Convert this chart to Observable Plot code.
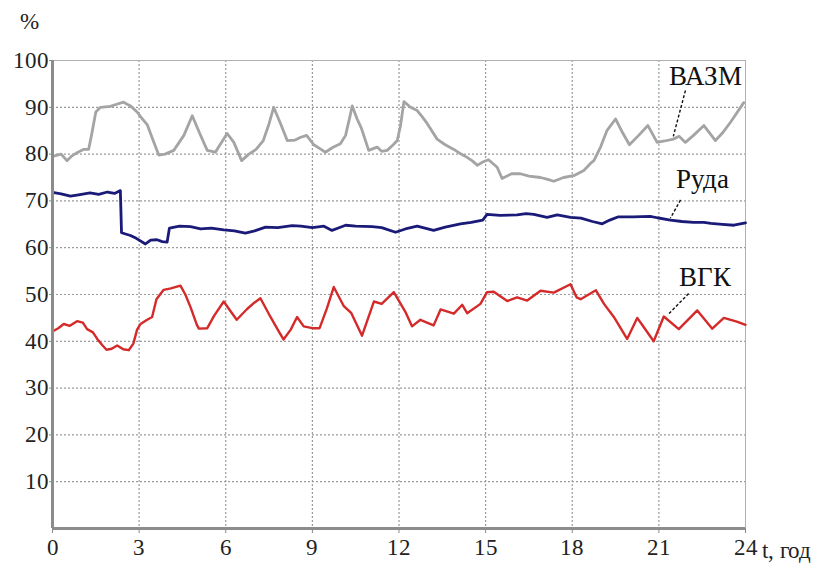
<!DOCTYPE html>
<html>
<head>
<meta charset="utf-8">
<script src="https://cdn.jsdelivr.net/npm/d3@7"></script>
<script src="https://cdn.jsdelivr.net/npm/@observablehq/plot@0.6"></script>
<style>
  @font-face { font-family: "ChartSerif"; src: local("Liberation Serif"), local("LiberationSerif"), local("LiberationSerif-Regular"); }
  html, body { margin: 0; padding: 0; background: #fff; font-family: "ChartSerif", "Liberation Serif", "Tinos", "Times New Roman", serif; }
  #head { position: relative; width: 831px; height: 40px; }
  #unit { position: absolute; left: 20px; top: 10px; font-size: 23px; line-height: 1; color: #222; }
  #chart svg { display: block; }
  #chart svg text, #chart svg tspan { font-family: "ChartSerif", "Liberation Serif", "Tinos", "Times New Roman", serif !important; }
</style>
</head>
<body>
<div id="head"><span id="unit"></span></div>
<div id="chart"></div>
<script>
// ---- data ----
const vazmT = [0.0,0.3,0.5,0.65,0.85,1.07,1.25,1.35,1.5,1.66,2.0,2.2,2.46,2.7,2.93,3.1,3.28,3.45,3.68,3.9,4.2,4.55,4.84,5.1,5.36,5.64,5.85,6.05,6.28,6.55,6.8,7.05,7.3,7.5,7.66,7.9,8.13,8.4,8.6,8.8,9.05,9.3,9.45,9.7,9.97,10.15,10.3,10.38,10.55,10.7,10.95,11.24,11.4,11.59,11.8,11.94,12.05,12.17,12.4,12.63,12.8,12.98,13.32,13.6,13.9,14.15,14.36,14.55,14.71,14.9,15.1,15.25,15.4,15.57,15.9,16.2,16.5,16.9,17.15,17.36,17.7,18.05,18.4,18.63,18.75,18.98,19.2,19.5,19.75,19.98,20.3,20.62,20.94,21.2,21.5,21.7,21.92,22.2,22.56,22.96,23.2,23.48,23.94];
const vazmV = [79.5,80.0,78.6,79.5,80.3,81.0,81.0,84.0,89.0,90.0,90.2,90.6,91.1,90.3,89.0,87.6,86.3,83.5,79.8,80.0,80.8,84.0,88.2,84.4,80.8,80.4,82.5,84.4,82.5,78.6,80.0,81.0,82.9,86.5,90.0,86.5,82.9,83.0,83.6,84.0,82.0,81.0,80.4,81.4,82.2,84.0,88.0,90.3,87.5,85.5,80.8,81.5,80.6,80.8,82.0,82.9,86.0,91.2,90.0,89.3,88.0,86.5,83.2,82.0,81.0,80.0,79.3,78.5,77.6,78.3,78.8,78.0,77.2,74.8,75.8,75.8,75.3,75.0,74.6,74.2,75.0,75.4,76.5,78.0,78.6,81.5,85.0,87.5,84.5,82.0,84.0,86.1,82.5,82.8,83.2,83.8,82.5,84.0,86.1,82.9,84.5,86.8,91.0];

const rudaT = [0.0,0.3,0.62,0.9,1.3,1.6,1.9,2.15,2.35,2.39,2.7,2.9,3.22,3.4,3.62,3.8,3.97,4.05,4.4,4.78,5.13,5.5,5.93,6.3,6.68,7.0,7.38,7.8,8.3,8.6,9.0,9.4,9.68,9.9,10.15,10.5,11.07,11.4,11.88,12.22,12.63,13.2,13.6,14.13,14.5,14.9,15.05,15.5,16.09,16.4,16.67,17.13,17.48,17.94,18.3,18.7,19.04,19.3,19.6,20.1,20.7,20.94,21.4,21.8,22.2,22.56,22.8,23.2,23.6,24.0];
const rudaV = [71.8,71.5,71.0,71.3,71.7,71.4,71.9,71.6,72.2,63.2,62.6,62.0,60.8,61.6,61.7,61.3,61.2,64.2,64.6,64.5,64.0,64.2,63.8,63.6,63.1,63.6,64.4,64.3,64.7,64.6,64.3,64.6,63.7,64.2,64.8,64.6,64.5,64.3,63.3,64.0,64.6,63.7,64.4,65.1,65.4,65.9,67.1,66.9,67.0,67.3,67.1,66.5,67.0,66.5,66.3,65.6,65.1,65.9,66.6,66.6,66.7,66.4,65.9,65.6,65.4,65.4,65.2,65.0,64.8,65.3];

const vgkT = [0.0,0.2,0.39,0.6,0.85,1.05,1.2,1.4,1.55,1.72,1.87,2.05,2.24,2.45,2.64,2.8,2.93,3.05,3.25,3.45,3.6,3.85,4.1,4.43,4.6,4.78,5.0,5.07,5.36,5.6,5.93,6.1,6.38,6.74,7.0,7.2,7.55,7.8,8.0,8.25,8.47,8.7,9.0,9.25,9.5,9.74,10.09,10.35,10.72,11.13,11.4,11.82,12.22,12.45,12.74,13.2,13.44,13.9,14.19,14.36,14.82,15.05,15.28,15.75,16.09,16.44,16.9,17.36,17.94,18.15,18.29,18.82,19.1,19.44,19.9,20.25,20.48,20.82,21.17,21.69,22.33,22.85,23.25,23.7,24.0];
const vgkV = [42.1,42.8,43.7,43.3,44.3,44.0,42.6,41.9,40.5,39.2,38.2,38.4,39.1,38.3,38.1,39.5,42.5,43.7,44.5,45.2,49.0,51.0,51.3,51.9,50.0,47.3,43.5,42.7,42.8,45.5,48.5,47.0,44.6,46.9,48.3,49.2,45.2,42.5,40.4,42.5,45.2,43.2,42.8,42.8,47.0,51.6,47.5,46.0,41.2,48.5,48.0,50.5,46.3,43.2,44.6,43.4,46.8,45.9,47.8,46.0,48.0,50.5,50.6,48.6,49.4,48.7,50.8,50.4,52.2,49.4,49.0,50.9,48.0,45.2,40.5,45.0,43.0,40.0,45.3,42.6,46.6,42.7,45.0,44.2,43.5];

const xTicks = [0, 3, 6, 9, 12, 15, 18, 21, 24];
const yTicks = [10, 20, 30, 40, 50, 60, 70, 80, 90, 100];
const xGrid = [3, 6, 9, 12, 15, 18, 21];
const yGrid = [10, 20, 30, 40, 50, 60, 70, 80, 90];

const seriesNames = ["ВАЗМ", "Руда", "ВГК"];
const xAxisUnit = "t, год";
const yAxisUnit = "%";

// annotation labels (data coordinates) and their leader lines
const labels = [
  {name: "ВАЗМ", x: 22.6,  y: 96.6, x1: 21.92, y1: 93.6, x2: 21.5, y2: 83.8},
  {name: "Руда", x: 22.5,  y: 74.6, x1: 21.75, y1: 70.2, x2: 21.4, y2: 66.3},
  {name: "ВГК",  x: 22.6,  y: 53.6, x1: 22.03, y1: 50.2, x2: 21.3, y2: 45.6}
];

const toRows = (t, v) => t.map((h, i) => ({t: h, v: v[i]}));
const vazm = toRows(vazmT, vazmV);
const ruda = toRows(rudaT, rudaV);
const vgk = toRows(vgkT, vgkV);

const font = "ChartSerif, Liberation Serif, Tinos, Times New Roman, serif";

document.getElementById("unit").textContent = yAxisUnit;

const chart = Plot.plot({
  width: 831,
  height: 524,
  marginLeft: 52,
  marginRight: 86,
  marginTop: 20,
  marginBottom: 36,
  style: {fontFamily: font, fontSize: "23px", background: "#fff", color: "#222"},
  x: {domain: [0, 24]},
  y: {domain: [0, 100]},
  marks: [
    // dotted grid
    Plot.ruleY(yGrid, {stroke: "#9a9a9a", strokeWidth: 1.2, strokeDasharray: "2,2"}),
    Plot.ruleX(xGrid, {stroke: "#9a9a9a", strokeWidth: 1.2, strokeDasharray: "2,2"}),
    // frame
    Plot.ruleY([100], {stroke: "#b0b0b0", strokeWidth: 1}),
    Plot.ruleX([24], {stroke: "#b0b0b0", strokeWidth: 1}),
    Plot.axisX({ticks: xTicks, tickSize: 5, tickPadding: 5, label: null, fontSize: 23, stroke: "#888", fontFamily: font}),
    Plot.axisY({ticks: yTicks, tickSize: 3, tickPadding: 1, label: null, fontSize: 23, stroke: "#888", fontFamily: font}),
    // series
    Plot.line(vazm, {x: "t", y: "v", stroke: "#a4a4a4", strokeWidth: 2.8, strokeLinejoin: "round"}),
    Plot.line(ruda, {x: "t", y: "v", stroke: "#1a1a78", strokeWidth: 2.8, strokeLinejoin: "round"}),
    Plot.line(vgk, {x: "t", y: "v", stroke: "#d42a2a", strokeWidth: 2.4, strokeLinejoin: "round"}),
    // thick axis lines
    Plot.ruleX([0], {stroke: "#8c8c8c", strokeWidth: 3}),
    Plot.ruleY([0], {stroke: "#8c8c8c", strokeWidth: 3}),
    // annotations
    Plot.link(labels, {x1: "x1", y1: "y1", x2: "x2", y2: "y2", stroke: "#111", strokeWidth: 1.4, strokeDasharray: "3,2"}),
    Plot.text(labels, {x: "x", y: "y", text: "name", fontSize: 27, fill: "#111", fontFamily: font}),
    // x unit
    Plot.text([xAxisUnit], {x: 24, y: 0, text: d => d, dx: 16, dy: 22, textAnchor: "start", fontSize: 23, fill: "#222", fontFamily: font})
  ]
});

// embedded style so the serif face travels with the SVG itself
const st = document.createElementNS("http://www.w3.org/2000/svg", "style");
st.textContent = "text, tspan { font-family: 'Liberation Serif', 'Tinos', 'Times New Roman', serif; }";
chart.insertBefore(st, chart.firstChild);
d3.select(chart).selectAll("text").attr("font-family", "Liberation Serif");

document.getElementById("chart").appendChild(chart);
</script>
</body>
</html>
